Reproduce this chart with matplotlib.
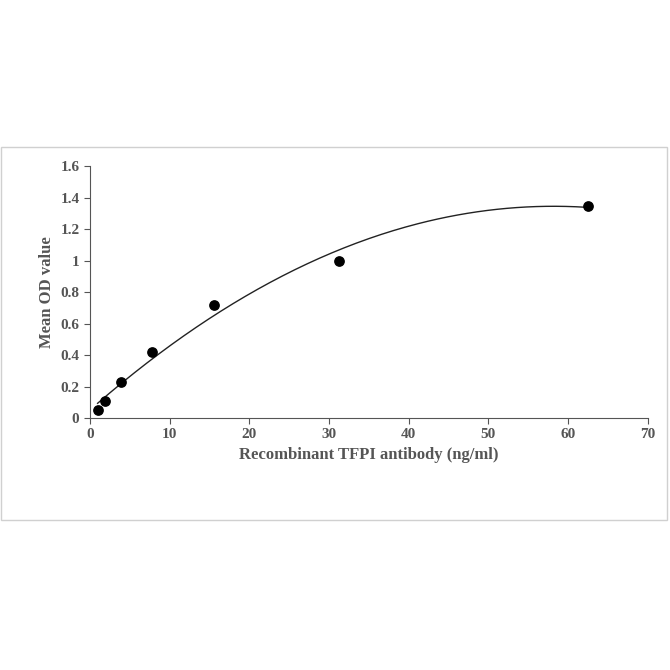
import numpy as np
import matplotlib
matplotlib.use("Agg")
import matplotlib.pyplot as plt
from matplotlib.patches import Rectangle

conc = [0.98, 1.95, 3.9, 7.8, 15.6, 31.25, 62.5]
od = [0.05, 0.11, 0.23, 0.42, 0.72, 1.0, 1.35]
xticks = [0, 10, 20, 30, 40, 50, 60, 70]
yticks = [0, 0.2, 0.4, 0.6, 0.8, 1, 1.2, 1.4, 1.6]
ylabels = ["0", "0.2", "0.4", "0.6", "0.8", "1", "1.2", "1.4", "1.6"]

plt.rcParams['font.family'] = ['Liberation Serif', 'DejaVu Serif']
fig = plt.figure(figsize=(6.7, 6.7), dpi=100)
fig.patches.append(Rectangle((0.002, 0.224), 0.994, 0.557, transform=fig.transFigure,
                             fill=False, edgecolor='#d0d0d0', lw=1))
ax = fig.add_axes([0.134, 0.376, 0.833, 0.376])
coef = np.polyfit(conc, od, 2)
xs = np.linspace(conc[0], conc[-1], 200)
ax.plot(xs, np.polyval(coef, xs), color='#222222', lw=1)
ax.scatter(conc, od, s=45, color='black', zorder=3)
ax.set_xlim(0, 70)
ax.set_ylim(0, 1.6)
ax.set_xticks(xticks)
ax.set_yticks(yticks)
ax.set_yticklabels(ylabels)
for s in ['top', 'right']:
    ax.spines[s].set_visible(False)
for s in ['left', 'bottom']:
    ax.spines[s].set_color('#555555')
ax.tick_params(colors='#555555', labelsize=11, direction='out', length=4)
for t in ax.get_xticklabels() + ax.get_yticklabels():
    t.set_fontweight('bold')
ax.set_xlabel('Recombinant TFPI antibody (ng/ml)', fontsize=12, fontweight='bold', color='#555555')
ax.set_ylabel('Mean OD value', fontsize=12, fontweight='bold', color='#555555')
fig.savefig('out.png', dpi=100)
